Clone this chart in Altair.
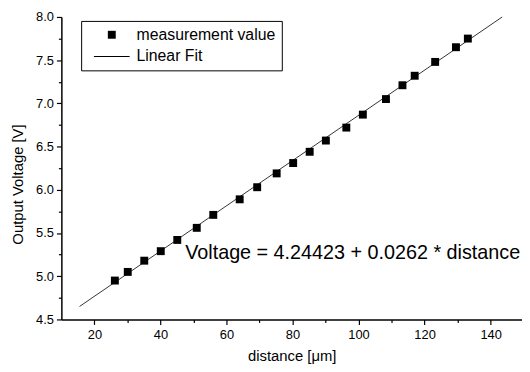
import altair as alt
import pandas as pd

# measured points
distance = [26.2, 30.1, 35.1, 40.1, 45.1, 51.0, 56.0, 64.0, 69.3, 75.2, 80.2,
            85.2, 90.1, 96.3, 101.3, 108.3, 113.3, 117.0, 123.2, 129.5, 133.1]
voltage = [4.95, 5.05, 5.18, 5.29, 5.42, 5.56, 5.71, 5.89, 6.03, 6.19, 6.31,
           6.44, 6.57, 6.72, 6.87, 7.05, 7.21, 7.32, 7.48, 7.65, 7.75]

# linear fit line end points
fit_x = [15.5, 143.5]
fit_y = [4.65, 8.0]

series_names = ["measurement value", "Linear Fit"]

x_major = [20, 40, 60, 80, 100, 120, 140]
x_minor = [30, 50, 70, 90, 110, 130]
y_major = [4.5, 5.0, 5.5, 6.0, 6.5, 7.0, 7.5, 8.0]
y_minor = [4.75, 5.25, 5.75, 6.25, 6.75, 7.25, 7.75]

annot_text = ["Voltage = 4.24423 + 0.0262 * distance"]
annot_x = [47.5]
annot_y = [5.27]

FONT = "Liberation Sans"

pts = pd.DataFrame({"d": distance, "v": voltage, "series": series_names[0]})
fit = pd.DataFrame({"d": fit_x, "v": fit_y})
ann = pd.DataFrame({"d": annot_x, "v": annot_y, "t": annot_text})

xscale = alt.Scale(domain=[10, 149.5], nice=False, zero=False)
yscale = alt.Scale(domain=[4.5, 8.0], nice=False, zero=False)

common = dict(
    grid=False, domainColor="black", tickColor="black", domainWidth=1.5,
    tickWidth=1.2, labelColor="black", titleColor="black", labelFont=FONT,
    titleFont=FONT, labelFontSize=13, titleFontSize=15,
    titleFontWeight="normal", labelFlush=False, labelOverlap=False,
)

xaxis = alt.Axis(title="distance [μm]", values=x_major, orient="bottom",
                 tickSize=5, labelPadding=4, titlePadding=8, **common)
yaxis = alt.Axis(title="Output Voltage [V]", values=y_major, format=".1f",
                 orient="left", tickSize=5, labelPadding=3, titlePadding=10,
                 titleY=169, **common)
xaxis_minor = alt.Axis(title=None, values=x_minor, orient="bottom", tickSize=3,
                       labels=False, domain=False, grid=False,
                       tickColor="black", tickWidth=1.2)
yaxis_minor = alt.Axis(title=None, values=y_minor, orient="left", tickSize=3,
                       labels=False, domain=False, grid=False,
                       tickColor="black", tickWidth=1.2)

# legend symbols: filled square, and a thin horizontal bar standing for the fit line
legend_shapes = ["square", "M-1.29,-0.035H1.29V0.035H-1.29Z"]

legend = alt.Legend(
    title=None, orient="none", legendX=20, legendY=4,
    strokeColor="black", fillColor="white", padding=6,
    labelFont=FONT, labelFontSize=16, labelColor="black",
    symbolOffset=11, labelOffset=11, rowPadding=0,
    symbolStrokeColor="black", symbolStrokeWidth=0, symbolFillColor="black",
)

line = alt.Chart(fit).mark_line(color="black", strokeWidth=0.8).encode(
    x=alt.X("d:Q", scale=xscale, axis=xaxis),
    y=alt.Y("v:Q", scale=yscale, axis=yaxis),
)

points = alt.Chart(pts).mark_point(filled=True, fill="black", opacity=1).encode(
    x=alt.X("d:Q", scale=xscale, axis=None),
    y=alt.Y("v:Q", scale=yscale, axis=None),
    shape=alt.Shape("series:N", scale=alt.Scale(domain=series_names, range=legend_shapes), legend=legend),
    size=alt.Size("series:N", scale=alt.Scale(domain=series_names, range=[64, 784]), legend=legend),
)

text = alt.Chart(ann).mark_text(align="left", baseline="middle", font=FONT,
                                fontSize=20, color="black").encode(
    x=alt.X("d:Q", scale=xscale, axis=xaxis_minor),
    y=alt.Y("v:Q", scale=yscale, axis=yaxis_minor),
    text="t:N",
)

chart = alt.layer(line, points, text).resolve_axis(
    x="independent", y="independent"
).properties(
    width=466, height=306,
    autosize=alt.AutoSizeParams(type="none"),
    padding={"left": 54, "top": 7, "right": 0, "bottom": 43},
    background="white",
).configure_view(stroke=None)

chart.save("out.html", embed_options={"renderer": "svg", "actions": False})
